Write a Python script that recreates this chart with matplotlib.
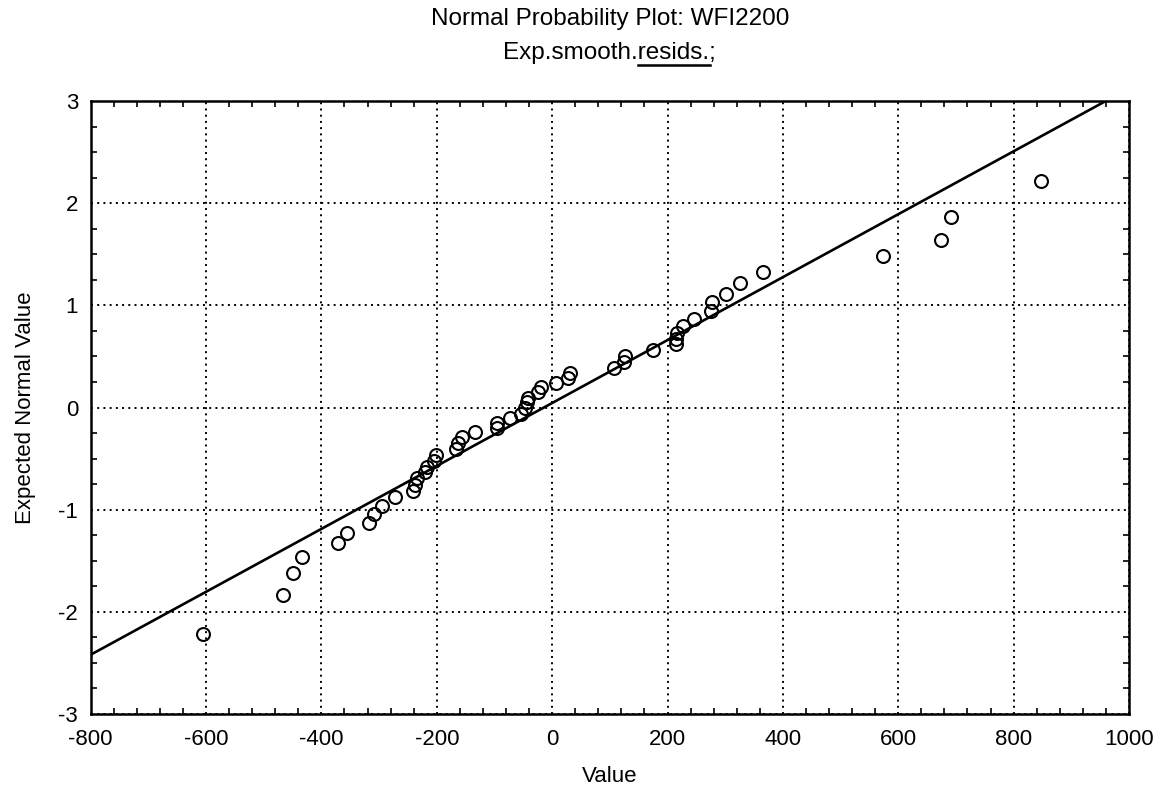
import numpy as np
import matplotlib
matplotlib.use("Agg")
import matplotlib.pyplot as plt
from matplotlib.lines import Line2D
from matplotlib.ticker import MultipleLocator

plt.rcParams['font.family'] = ['Liberation Sans', 'DejaVu Sans']
plt.rcParams['axes.unicode_minus'] = False

# residuals (sorted) and their expected normal values
values = [-605, -466, -450, -433, -372, -355, -318, -308, -295, -273,
          -241, -238, -234, -221, -217, -205, -201, -166, -164, -156,
          -133, -96, -95, -73, -54, -47, -44, -42, -25, -20,
          7, 27, 31, 107, 124, 126, 175, 214, 214, 216,
          227, 246, 275, 277, 301, 326, 365, 574, 674, 692, 848]
expected = [-2.22, -1.84, -1.62, -1.46, -1.33, -1.23, -1.13, -1.04, -0.96, -0.88,
            -0.82, -0.76, -0.69, -0.63, -0.58, -0.52, -0.46, -0.41, -0.35, -0.29,
            -0.24, -0.20, -0.15, -0.10, -0.06, 0.00, 0.05, 0.09, 0.15, 0.20,
            0.24, 0.29, 0.34, 0.39, 0.45, 0.50, 0.56, 0.62, 0.67, 0.73,
            0.80, 0.87, 0.94, 1.03, 1.11, 1.22, 1.33, 1.48, 1.64, 1.86, 2.22]

# reference line y = intercept + slope * x
line_slope = 0.00308
line_intercept = 0.044

xticks = [-800, -600, -400, -200, 0, 200, 400, 600, 800, 1000]
yticks = [-3, -2, -1, 0, 1, 2, 3]

fig = plt.figure(figsize=(11.62, 7.96), dpi=100)
ax = fig.add_axes([0.078, 0.103, 0.8936, 0.7701])

lx = np.array([xticks[0], xticks[-1]])
ax.plot(lx, line_intercept + line_slope * lx, color='black', lw=1.9, zorder=3)
ax.plot(values, expected, 'o', mfc='none', mec='black', ms=9.3, mew=1.5, zorder=4)

ax.set_xlim(xticks[0], xticks[-1])
ax.set_ylim(yticks[0], yticks[-1])
ax.set_xticks(xticks)
ax.set_yticks(yticks)
ax.xaxis.set_minor_locator(MultipleLocator(40))
ax.yaxis.set_minor_locator(MultipleLocator(0.25))
ax.tick_params(which='both', direction='in', top=True, right=True,
               labelsize=16, width=1.2)
ax.tick_params(axis='x', pad=11)
ax.tick_params(axis='y', pad=9)
ax.tick_params(which='major', length=0)
ax.tick_params(which='minor', length=4)
ax.grid(True, which='major', color='black', linestyle=(0, (1, 2.2)), lw=1.4)
for s in ax.spines.values():
    s.set_linewidth(1.8)

ax.set_xlabel("Value", fontsize=16, labelpad=11)
ax.set_ylabel("Expected Normal Value", fontsize=16, labelpad=16)

xc = 0.078 + 0.8936 / 2
fig.text(xc, 1 - 19 / 796, "Normal Probability Plot: WFI2200",
         ha='center', va='center', fontsize=17.5)
sub = "Exp.smooth.resids.;"
t2 = fig.text(xc, 1 - 53 / 796, sub, ha='center', va='center', fontsize=17.5)

# underline "resids."
r = fig.canvas.get_renderer()
bb = t2.get_window_extent(r)
probe = fig.text(0, 0, "Exp.smooth.", fontsize=17.5)
w1 = probe.get_window_extent(r).width
probe.set_text("Exp.smooth.resids.")
w2 = probe.get_window_extent(r).width
probe.remove()
W, H = fig.get_size_inches() * fig.dpi
uy = (bb.y0 - 1) / H
fig.add_artist(Line2D([(bb.x0 + w1) / W, (bb.x0 + w2) / W], [uy, uy],
                      color='black', lw=1.8))

fig.savefig("out.png", dpi=100)
